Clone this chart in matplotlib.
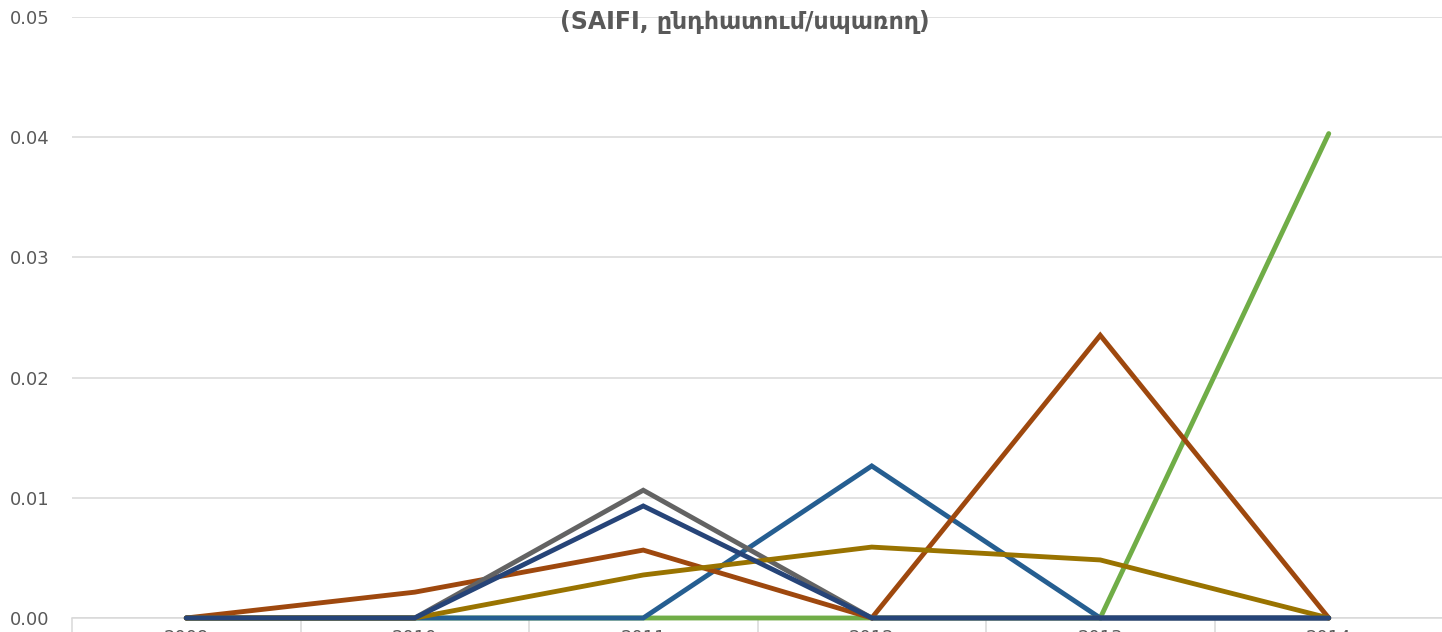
import matplotlib
matplotlib.use("Agg")
import matplotlib.pyplot as plt
import numpy as np

years = ["2009", "2010", "2011", "2012", "2013", "2014"]
green = [0, 0, 0, 0, 0, 0.0403]
blue = [0, 0, 0, 0.01265, 0, 0]
orange = [0, 0.00215, 0.00565, 0, 0.02352, 0]
gray = [0, 0, 0.01063, 0, 0, 0]
gold = [0, 0, 0.00358, 0.0059, 0.00483, 0]
navy = [0, 0, 0.00932, 0, 0, 0]

series = [(green, "#70AD47"), (blue, "#255E91"), (orange, "#9E480E"),
          (gray, "#636363"), (gold, "#997300"), (navy, "#264478")]

W, H = 1442, 632
fig = plt.figure(figsize=(W / 100, H / 100), dpi=100)
left = 72 / W
right_px = 1443
bottom = 1 - 618 / H
top = 1 - 17 / H
ax = fig.add_axes([left, bottom, (right_px - 72) / W, top - bottom])

x = np.arange(len(years))
for vals, c in series:
    ax.plot(x, vals, color=c, lw=3.5, solid_capstyle="round", solid_joinstyle="miter",
            zorder=3, clip_on=False)

ax.set_xlim(-0.5, len(years) - 0.5)
ax.set_ylim(0, 0.05)
ax.set_yticks([0, 0.01, 0.02, 0.03, 0.04, 0.05])
ax.set_yticklabels(["0.00", "0.01", "0.02", "0.03", "0.04", "0.05"])
ax.grid(axis="y", color="#D9D9D9", lw=1.1, zorder=0)
for s in ["left", "right", "top"]:
    ax.spines[s].set_visible(False)
ax.spines["bottom"].set_color("#D9D9D9")
ax.spines["bottom"].set_linewidth(1.1)
ax.tick_params(axis="y", length=0, pad=16, labelsize=13, labelcolor="#595959")
ax.set_xticks(x)
ax.set_xticklabels(years)
ax.set_xticks(np.arange(-0.5, len(years), 1.0), minor=True)
ax.tick_params(axis="x", which="major", length=0, pad=8, labelsize=13, labelcolor="#595959")
ax.tick_params(axis="x", which="minor", length=16, width=1.1, color="#D9D9D9")
ax.set_axisbelow(True)

fig.text(745 / W, 1 - 22 / H, "(SAIFI, ընդհատում/սպառող)", ha="center", va="center",
         fontsize=17, fontweight="bold", color="#595959", family=["DejaVu Sans"])

fig.savefig("out.png", dpi=100)
